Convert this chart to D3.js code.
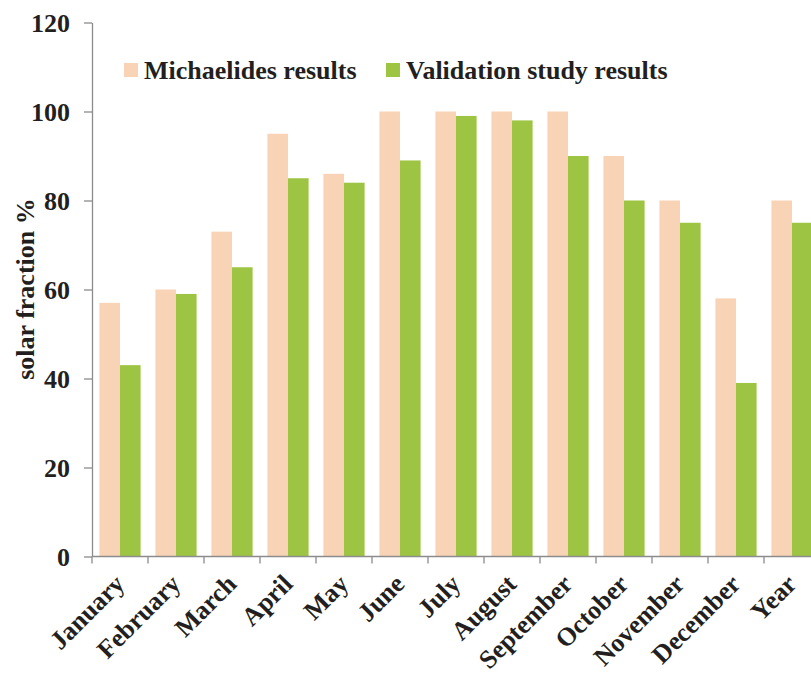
<!DOCTYPE html>
<html>
<head>
<meta charset="utf-8">
<script src="https://cdn.jsdelivr.net/npm/d3@7"></script>
<style>
  html, body { margin: 0; padding: 0; background: #fff; }
  svg text { font-family: "Liberation Serif", "Times New Roman", serif; font-weight: bold; fill: #231f20; }
</style>
</head>
<body>
<svg id="chart" width="811" height="673"></svg>
<script>
// Monthly solar fraction (%), two sources
const categories = ["January", "February", "March", "April", "May", "June", "July",
  "August", "September", "October", "November", "December", "Year"];
const michaelides = [57, 60, 73, 95, 86, 100, 100, 100, 100, 90, 80, 58, 80];
const validation = [43, 59, 65, 85, 84, 89, 99, 98, 90, 80, 75, 39, 75];
const seriesNames = ["Michaelides results", "Validation study results"];
const yTicks = [0, 20, 40, 60, 80, 100, 120];

const colors = ["#f9d3b5", "#9dc543"];
const axisColor = "#8c8c8c";
const fontSize = 26;

const svg = d3.select("#chart");
const plotLeft = 92, plotTop = 22.5, plotBottom = 556.5;
const bandW = 56;
const plotRight = plotLeft + bandW * categories.length;

const x = d3.scaleBand().domain(categories).range([plotLeft, plotRight]).paddingInner(0).paddingOuter(0);
const xSub = d3.scaleBand().domain([0, 1]).range([0, bandW]).paddingInner(0).paddingOuter(0.36);
const y = d3.scaleLinear().domain([0, 120]).range([plotBottom, plotTop]);

const series = [michaelides, validation];

// Bars
series.forEach((vals, si) => {
  svg.append("g")
    .selectAll("rect")
    .data(vals)
    .join("rect")
    .attr("x", (d, i) => x(categories[i]) + xSub(si))
    .attr("y", d => y(d))
    .attr("width", xSub.bandwidth())
    .attr("height", d => y(0) - y(d))
    .attr("fill", colors[si]);
});

// Y axis
const yAxis = svg.append("g")
  .attr("transform", `translate(${plotLeft},0)`)
  .call(d3.axisLeft(y).tickValues(yTicks).tickSize(8).tickPadding(14).tickSizeOuter(0));
yAxis.select(".domain").attr("stroke", axisColor).attr("stroke-width", 1.3);
yAxis.selectAll(".tick line").attr("stroke", axisColor).attr("stroke-width", 1.3);
yAxis.selectAll(".tick text").attr("font-size", fontSize).attr("dy", "0.34em");

// X axis: ticks between categories
const xAxis = svg.append("g").attr("transform", `translate(0,${plotBottom})`);
xAxis.append("line")
  .attr("x1", plotLeft).attr("x2", plotRight)
  .attr("stroke", axisColor).attr("stroke-width", 1.3);
xAxis.selectAll("line.tick")
  .data(categories)
  .join("line")
  .attr("class", "tick")
  .attr("x1", d => x(d)).attr("x2", d => x(d))
  .attr("y1", 0).attr("y2", 7)
  .attr("stroke", axisColor).attr("stroke-width", 1.3);
xAxis.selectAll("text")
  .data(categories)
  .join("text")
  .attr("text-anchor", "end")
  .attr("font-size", fontSize)
  .attr("transform", d => `translate(${x(d) + bandW / 2 + 6},${29}) rotate(-45)`)
  .text(d => d);

// Y axis title
svg.append("text")
  .attr("transform", `translate(34,289) rotate(-90)`)
  .attr("text-anchor", "middle")
  .attr("font-size", fontSize)
  .text("solar fraction %");

// Legend
const legendItems = [
  { name: seriesNames[0], color: colors[0], x: 124 },
  { name: seriesNames[1], color: colors[1], x: 386 }
];
const legend = svg.append("g");
legendItems.forEach(it => {
  legend.append("rect")
    .attr("x", it.x).attr("y", 63).attr("width", 14).attr("height", 14)
    .attr("fill", it.color);
  legend.append("text")
    .attr("x", it.x + 20).attr("y", 79)
    .attr("font-size", fontSize)
    .text(it.name);
});
</script>
</body>
</html>
